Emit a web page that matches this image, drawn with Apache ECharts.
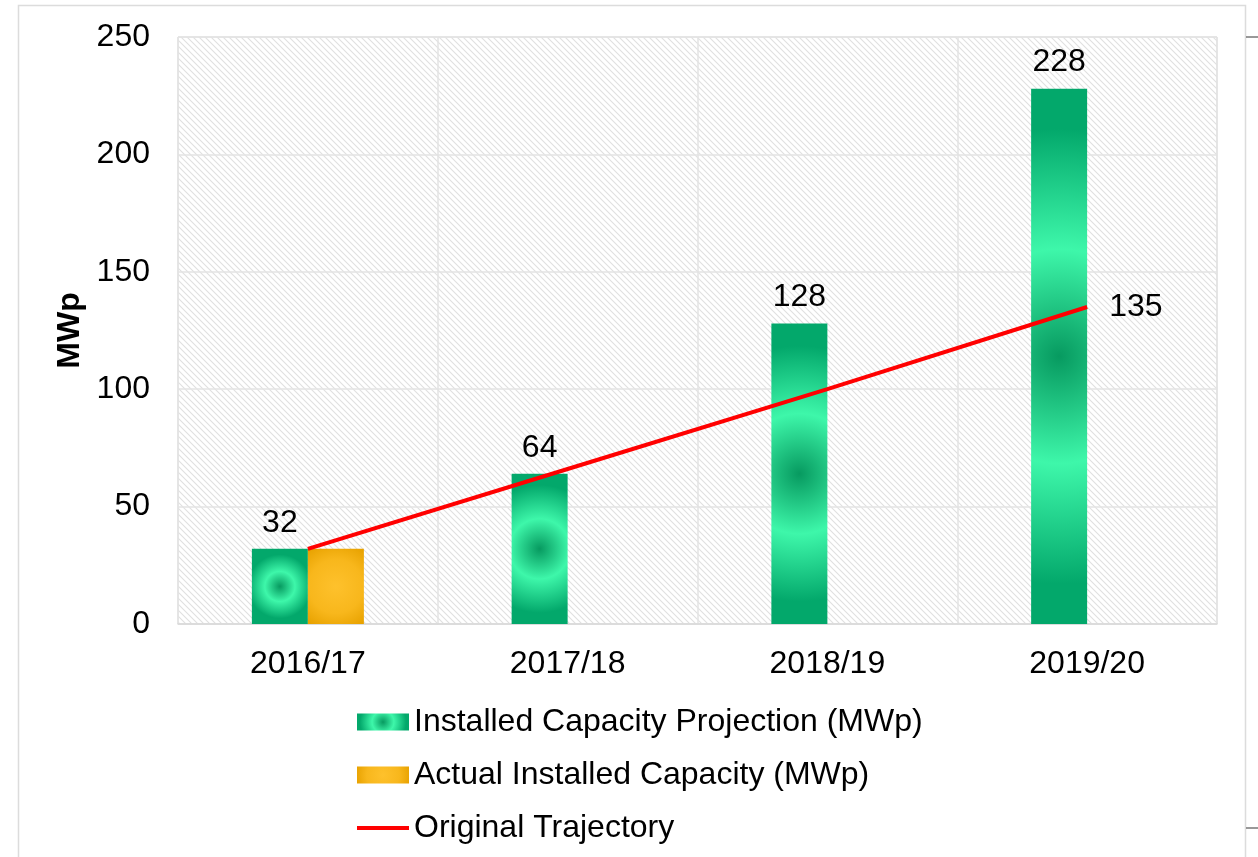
<!DOCTYPE html>
<html>
<head>
<meta charset="utf-8">
<script src="https://cdn.jsdelivr.net/npm/echarts@6/dist/echarts.min.js"></script>
<style>
html, body { margin: 0; padding: 0; background: #fff; }
#container1 { width: 1258px; height: 857px; }
</style>
</head>
<body>
<div id="container1"></div>
<script>
// 数据
var years = ['2016/17', '2017/18', '2018/19', '2019/20'];
var projection = [32, 64, 128, 228];
var actual = [32, '-', '-', '-'];
var trajectory = [32, 66, 100, 135];
var yMin = 0, yMax = 250, yStep = 50;

var FONT = 'Arial, "Liberation Sans", sans-serif';
var FS = 32;
var BAR_W = 56;

var greenStops = [
    { offset: 0, color: '#079a60' },
    { offset: 0.4, color: '#3ef7aa' },
    { offset: 0.85, color: '#03a86b' },
    { offset: 1, color: '#03a86b' }
];
var orangeStops = [
    { offset: 0, color: '#fec12c' },
    { offset: 0.6, color: '#f8b71c' },
    { offset: 1, color: '#e8a200' }
];

//斜线背景
function hatch() {
    var c = document.createElement('canvas');
    c.width = 6; c.height = 6;
    var ctx = c.getContext('2d');
    ctx.fillStyle = '#ffffff';
    ctx.fillRect(0, 0, 6, 6);
    ctx.strokeStyle = '#e0e0e0';
    ctx.lineWidth = 1.1;
    ctx.beginPath();
    ctx.moveTo(-1, -1); ctx.lineTo(7, 7);
    ctx.moveTo(-1, 5); ctx.lineTo(1, 7);
    ctx.moveTo(5, -1); ctx.lineTo(7, 1);
    ctx.stroke();
    return c;
}

var myChart = echarts.init(document.getElementById('container1'));
var option = {
    animation: false,
    textStyle: { fontFamily: FONT },
    grid: {
        left: 178, right: 41, top: 37, bottom: 233,
        show: true,
        backgroundColor: { image: hatch(), repeat: 'repeat' },
        borderColor: '#d9d9d9',
        borderWidth: 1
    },
    graphic: [
        { type: 'rect', shape: { x: 18.5, y: 5.5, width: 1227, height: 900 }, style: { fill: null, stroke: '#dcdcdc', lineWidth: 1.5 }, silent: true },
        { type: 'line', shape: { x1: 1246, y1: 37, x2: 1258, y2: 37 }, style: { stroke: '#333', lineWidth: 1 } },
        { type: 'line', shape: { x1: 1246, y1: 828, x2: 1258, y2: 828 }, style: { stroke: '#777', lineWidth: 1.5 } }
    ],
    legend: {
        orient: 'vertical',
        left: 350,
        top: 701,
        itemWidth: 52,
        itemHeight: 17,
        itemGap: 21,
        textStyle: { fontSize: FS, color: '#000', fontFamily: FONT },
        data: [
            { name: 'Installed Capacity Projection (MWp)', icon: 'rect' },
            { name: 'Actual Installed Capacity (MWp)', icon: 'rect' },
            { name: 'Original Trajectory', itemStyle: { opacity: 0 }, lineStyle: { width: 4, color: '#ff0000' } }
        ]
    },
    xAxis: {
        type: 'category',
        data: years,
        axisLine: { show: true, lineStyle: { color: '#d9d9d9', width: 1.5 } },
        axisTick: { show: false },
        axisLabel: { fontSize: FS, color: '#000', margin: 24 },
        splitLine: { show: true, lineStyle: { color: '#e3e3e3', width: 1.5 } }
    },
    yAxis: {
        type: 'value',
        min: yMin, max: yMax, interval: yStep,
        name: 'MWp',
        nameLocation: 'middle',
        nameGap: 92,
        nameTextStyle: { fontSize: FS, fontWeight: 'bold', color: '#000' },
        axisLine: { show: false },
        axisTick: { show: false },
        axisLabel: { fontSize: FS, color: '#000', margin: 28 },
        splitLine: { lineStyle: { color: '#e3e3e3', width: 1.5 } }
    },
    series: [
        {
            name: 'Installed Capacity Projection (MWp)',
            type: 'bar',
            barWidth: BAR_W,
            barGap: '0%',
            itemStyle: { color: { type: 'radial', x: 0.5, y: 0.5, r: 1.6, colorStops: greenStops } },
            label: { show: true, position: 'top', distance: 10, fontSize: FS, color: '#000' },
            data: projection
        },
        {
            name: 'Actual Installed Capacity (MWp)',
            type: 'bar',
            barWidth: BAR_W,
            itemStyle: { color: { type: 'radial', x: 0.5, y: 0.5, r: 1.6, colorStops: orangeStops } },
            data: actual
        },
        {
            name: 'Original Trajectory',
            type: 'line',
            symbol: 'none',
            lineStyle: { color: '#ff0000', width: 4 },
            itemStyle: { color: '#ff0000' },
            z: 5,
            endLabel: {
                show: true,
                distance: 22,
                fontSize: FS,
                color: '#000',
                formatter: function (p) { return p.value; }
            },
            data: trajectory
        }
    ]
};
myChart.setOption(option);

//每根柱子按自身大小设置径向渐变
function barGradient(values, offsetX, stops, orange) {
    var y0 = myChart.convertToPixel({ yAxisIndex: 0 }, 0);
    return values.map(function (v, i) {
        if (v === '-') return v;
        var cx = myChart.convertToPixel({ xAxisIndex: 0 }, i) + offsetX;
        var top = myChart.convertToPixel({ yAxisIndex: 0 }, v);
        var h = y0 - top;
        var r = orange ? Math.max(h, BAR_W) * 0.6 : h / 2;
        return {
            value: v,
            itemStyle: {
                color: { type: 'radial', x: cx, y: (top + y0) / 2, r: r, global: true, colorStops: stops }
            }
        };
    });
}
myChart.setOption({
    series: [
        { name: 'Installed Capacity Projection (MWp)', data: barGradient(projection, -BAR_W / 2, greenStops, false) },
        { name: 'Actual Installed Capacity (MWp)', data: barGradient(actual, BAR_W / 2, orangeStops, true) }
    ]
});
</script>
</body>
</html>
